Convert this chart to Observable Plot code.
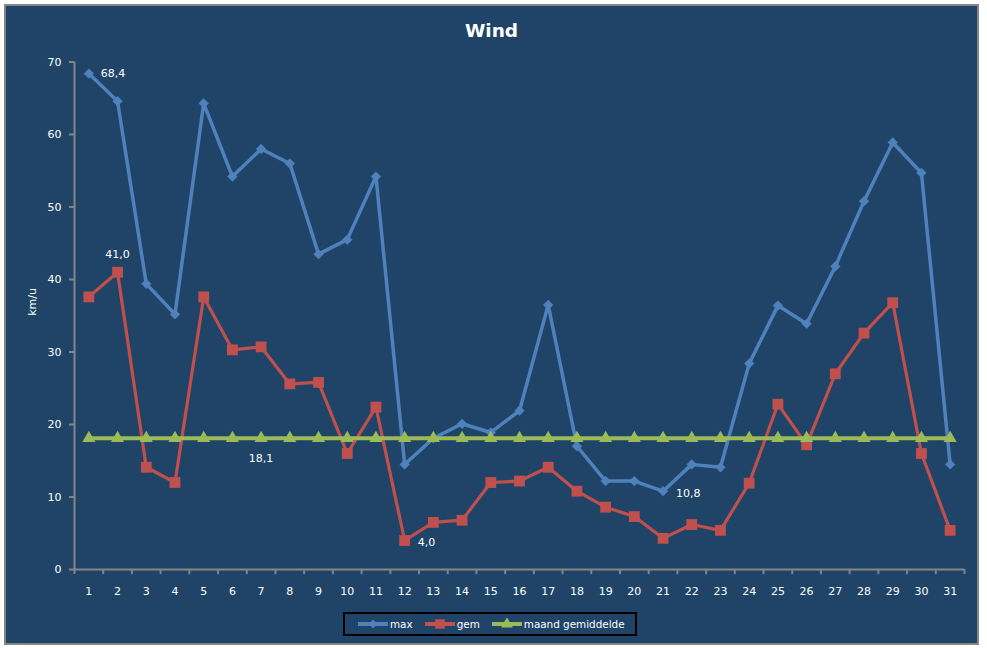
<!DOCTYPE html>
<html>
<head>
<meta charset="utf-8">
<script src="https://cdn.jsdelivr.net/npm/d3@7"></script>
<script src="https://cdn.jsdelivr.net/npm/@observablehq/plot@0.6"></script>
<style>
  html, body { margin: 0; padding: 0; background: #ffffff; }
  body { width: 987px; height: 648px; position: relative; overflow: hidden; font-family: "DejaVu Sans", sans-serif; }
  #frame { position: absolute; left: 4px; top: 4px; width: 975px; height: 641px; box-sizing: border-box;
           border: 2px solid #858585; background: #1F4467; }
  #title { height: 40px; box-sizing: border-box; padding-top: 10px; line-height: 30px; text-align: center;
           color: #ffffff; font-weight: bold; font-size: 18.5px; }
  #chart svg { display: block; }
  #legend { margin-left: 337px; margin-top: 6px; width: 294px; height: 24px; box-sizing: border-box;
            border: 2px solid #000000; display: flex; align-items: center; color: #ffffff; font-size: 10.4px;
            white-space: nowrap; overflow: visible; }
  .item { display: flex; align-items: center; flex-shrink: 0; white-space: nowrap; }
  .item svg { display: block; margin-right: 2px; flex-shrink: 0; }
</style>
</head>
<body>
<div id="frame">
  <div id="title">Wind</div>
  <div id="chart"></div>
  <div id="legend"></div>
</div>
<script>
// ---- data ----
const days = d3.range(1, 32);
const maxValues = [68.4, 64.6, 39.4, 35.2, 64.3, 54.2, 58.0, 56.0, 43.5, 45.5, 54.2,
                   14.5, 18.1, 20.1, 18.9, 21.9, 36.5, 17.0, 12.2, 12.2, 10.8, 14.5,
                   14.1, 28.4, 36.4, 33.9, 41.8, 50.8, 58.9, 54.7, 14.5];
const gemValues = [37.6, 41.0, 14.1, 12.0, 37.6, 30.3, 30.7, 25.6, 25.8, 16.0, 22.4,
                   4.0, 6.5, 6.8, 12.0, 12.2, 14.1, 10.8, 8.6, 7.3, 4.3, 6.2,
                   5.4, 11.9, 22.8, 17.2, 27.0, 32.6, 36.8, 16.0, 5.4];
const monthAvg = 18.1;
const avgValues = days.map(() => monthAvg);
const seriesNames = ["max", "gem", "maand gemiddelde"];
const yTicks = [0, 10, 20, 30, 40, 50, 60, 70];
const yLabel = "km/u";

// ---- styles ----
const colors = {max: "#4F81BD", gem: "#C0504D", avg: "#9BBB59"};
const axisGray = "#858585";

const rows = days.map((d, i) => ({day: d, max: maxValues[i], gem: gemValues[i], avg: avgValues[i]}));
const fmt = v => d3.format(".1f")(v).replace(".", ",");
const bounds = [days[0] - 0.5, ...days.map(d => d + 0.5)];
const xDomain = [days[0] - 0.5, days[days.length - 1] + 0.5];

const row = d => rows.find(r => r.day === d);

const plot = Plot.plot({
  width: 971,
  height: 560,
  marginLeft: 68,
  marginRight: 13,
  marginTop: 15.5,
  marginBottom: 37,
  style: {background: "transparent", color: "white", fontFamily: "DejaVu Sans, sans-serif", fontSize: "11px"},
  x: {type: "linear", domain: xDomain},
  y: {domain: [yTicks[0], yTicks[yTicks.length - 1]]},
  marks: [
    // axes
    Plot.axisY(yTicks, {tickSize: 5, tickPadding: 8, stroke: axisGray, strokeWidth: 2, fill: "white", label: null, tickFormat: d => String(d)}),
    Plot.axisX(bounds, {tickSize: 5, stroke: axisGray, strokeWidth: 2, tickFormat: () => "", label: null}),
    Plot.axisX(days, {tickSize: 0, tickPadding: 18, fill: "white", label: null, tickFormat: d => String(d)}),
    Plot.ruleX([xDomain[0]], {y1: yTicks[0], y2: yTicks[yTicks.length - 1], stroke: axisGray, strokeWidth: 2}),
    Plot.ruleY([yTicks[0]], {x1: xDomain[0], x2: xDomain[1], stroke: axisGray, strokeWidth: 2}),
    Plot.text([yLabel], {frameAnchor: "left", dx: -42, rotate: -90, fill: "white"}),
    // max
    Plot.line(rows, {x: "day", y: "max", stroke: colors.max, strokeWidth: 3.5}),
    Plot.dot(rows, {x: "day", y: "max", symbol: "diamond2", r: 4.4, fill: colors.max, stroke: colors.max, strokeWidth: 0.5}),
    // gem
    Plot.line(rows, {x: "day", y: "gem", stroke: colors.gem, strokeWidth: 3.2}),
    Plot.dot(rows, {x: "day", y: "gem", symbol: "square", r: 6.1, fill: colors.gem, stroke: "none"}),
    // average
    Plot.line(rows, {x: "day", y: "avg", stroke: colors.avg, strokeWidth: 4}),
    Plot.dot(rows, {x: "day", y: "avg", symbol: "triangle", r: 4.9, fill: colors.avg, stroke: "none"}),
    // data labels
    Plot.text([row(1)], {x: "day", y: "max", text: d => fmt(d.max), dx: 12, textAnchor: "start", fill: "white"}),
    Plot.text([row(2)], {x: "day", y: "gem", text: d => fmt(d.gem), dy: -18, fill: "white"}),
    Plot.text([row(7)], {x: "day", y: "avg", text: d => fmt(d.avg), dy: 20, fill: "white"}),
    Plot.text([row(12)], {x: "day", y: "gem", text: d => fmt(d.gem), dx: 13, dy: 1.5, textAnchor: "start", fill: "white"}),
    Plot.text([row(21)], {x: "day", y: "max", text: d => fmt(d.max), dx: 13, dy: 2, textAnchor: "start", fill: "white"})
  ]
});
document.getElementById("chart").appendChild(plot);

// ---- legend ----
const legendDefs = [
  {name: seriesNames[0], color: colors.max, symbol: d3.symbolDiamond2, size: 50},
  {name: seriesNames[1], color: colors.gem, symbol: d3.symbolSquare, size: 90},
  {name: seriesNames[2], color: colors.avg, symbol: d3.symbolTriangle, size: 60}
];
const legend = d3.select("#legend");
legendDefs.forEach((s, i) => {
  const item = legend.append("div").attr("class", "item").style("margin-left", i === 0 ? "13px" : "12px");
  const svg = item.append("svg").attr("width", 30).attr("height", 12);
  svg.append("line").attr("x1", 0).attr("x2", 30).attr("y1", 6).attr("y2", 6).attr("stroke", s.color).attr("stroke-width", 4);
  svg.append("path").attr("d", d3.symbol(s.symbol, s.size)()).attr("transform", "translate(15,6)").attr("fill", s.color);
  item.append("span").text(s.name);
});
</script>
</body>
</html>
